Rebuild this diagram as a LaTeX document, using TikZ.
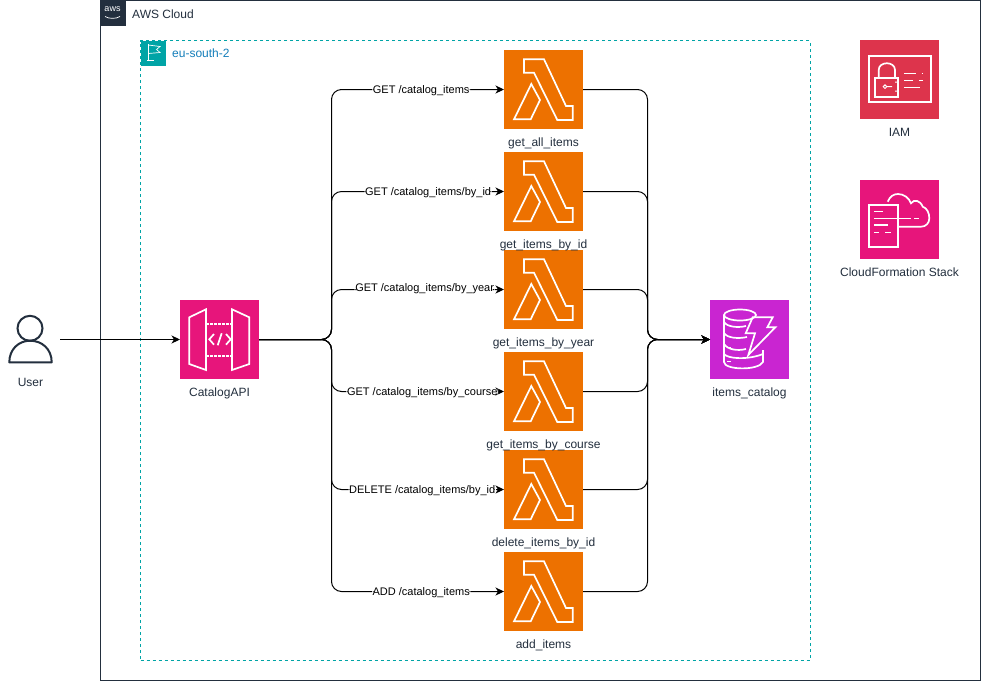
\documentclass[tikz,border=0pt]{standalone}
\usepackage{fontspec}
\setmainfont{Liberation Sans}
\usetikzlibrary{arrows.meta, positioning}
\definecolor{awsink}{HTML}{232F3E}
\definecolor{regionteal}{HTML}{00A4A6}
\definecolor{regionblue}{HTML}{147EBA}
\definecolor{lambdaorange}{HTML}{ED7100}
\definecolor{apipink}{HTML}{E7157B}
\definecolor{dynamopurple}{HTML}{C925D1}
\definecolor{iamred}{HTML}{DD344C}

\begin{document}
\begin{tikzpicture}[
	x=1pt, y=-1pt,
	font=\fontsize{12}{14}\selectfont,
	icon/.style={
		rectangle,
		minimum width=79pt,
		minimum height=79pt,
		inner sep=0pt,
		outer sep=0pt
	},
	lambdabox/.style={icon, fill=lambdaorange},
	caption/.style={text=awsink, inner sep=0pt, below=9pt of #1},
	conn/.style={-{Stealth[length=8.5pt, width=8pt, inset=2.5pt]}, line width=1pt, rounded corners=10pt},
	edgelabel/.style={fill=white, inner sep=0.6pt, text height=8pt, text depth=2pt, yshift=-0.7pt, font=\fontsize{11}{12}\selectfont},
	glyph/.style={draw=white, line width=1.7pt, line join=miter},
	lambdaglyph/.pic={
		\draw[glyph] (20,9.3) -- (40,9.3) -- (62,56) -- (68.7,56) -- (68.7,70) -- (53.3,70) -- (30,22.7) -- (20,22.7) -- cycle;
		\draw[glyph] (27.3,34) -- (36,50) -- (26.7,69.3) -- (10,69.3) -- cycle;
	}
	]
	
	\useasboundingbox (0,0) rectangle (981,681);
	\fill[white] (0,0) rectangle (981,681);
	
	% Containers
	\node[draw=awsink, line width=1pt, minimum width=880pt, minimum height=680pt, inner sep=0pt, outer sep=0pt, anchor=north west] (cloud) at (100.5,0.5) {};
	\node[fill=awsink, minimum size=25pt, inner sep=0pt, outer sep=0pt, anchor=north west] (cloudbadge) at (cloud.north west) {};
	\node[white, font=\fontsize{9}{9}\selectfont, inner sep=0pt] (cloudlogo) at (112.5,9.5) {aws};
	\draw[white, line width=0.7pt] (105,16.5) .. controls (109,19) and (116,19) .. (120,16.5);
	\node[text=awsink, inner sep=0pt, anchor=west] (cloudtxt) at (132,14) {AWS Cloud};
	
	\node[draw=regionteal, dashed, line width=1pt, minimum width=669.5pt, minimum height=619.5pt, inner sep=0pt, outer sep=0pt, anchor=north west] (region) at (140.5,40.5) {};
	\node[fill=regionteal, minimum size=25pt, inner sep=0pt, outer sep=0pt, anchor=north west] (regionbadge) at (region.north west) {};
	\draw[white, line width=0.9pt] (148.3,44) -- (148.3,60.7) (147,60.7) -- (153.5,60.7);
	\draw[white, line width=0.7pt] (148.3,45) -- (160,46.5) -- (156.5,49.5) -- (160,52.5) -- (148.3,53.5);
	\node[text=regionblue, inner sep=0pt, anchor=west] (regiontxt) at (172,53) {eu-south-2};
	
	% User
	\node[minimum width=60pt, minimum height=60pt, inner sep=0pt, outer sep=0pt] (user) at (30,339.5) {};
	\draw[awsink, line width=2pt] (30,328.3) circle[radius=12.5];
	\draw[awsink, line width=2pt, line join=round] (9.3,362.3) .. controls (9.3,349) and (19,340.7) .. (30,340.7) .. controls (42,340.7) and (51.7,349) .. (51.7,362.3) -- cycle;
	\node[caption=user, yshift=0.5pt, xshift=0.5pt] (usertxt) {User};
	
	% API
	\node[icon, fill=apipink] (api) at (219.5,339.5) {};
	\begin{scope}[shift={(api.north west)}]
		\draw[glyph] (9.3,17.3) -- (26,9.3) -- (26,70) -- (9.3,64) -- cycle;
		\draw[glyph] (52,9.3) -- (69.3,17.3) -- (69.3,64) -- (52,70) -- cycle;
		\draw[glyph, dash pattern=on 2.5pt off 1.5pt] (26,24) -- (52,24) (26,55.7) -- (52,55.7);
		\draw[glyph] (34,34) -- (29.3,39.3) -- (34,44.7) (46,34) -- (50.7,39.3) -- (46,44.7) (41.7,33.3) -- (37.7,45.3);
	\end{scope}
	\node[caption=api] (apitxt) {CatalogAPI};
	
	% Lambdas
	\node[lambdabox] (getall) at (543.5,89.5) {};
	\node[lambdabox, below=23pt of getall] (getbyid) {};
	\node[lambdabox, below=19pt of getbyid] (getbyyear) {};
	\node[lambdabox, below=23pt of getbyyear] (getbycourse) {};
	\node[lambdabox, below=19pt of getbycourse] (deletebyid) {};
	\node[lambdabox, below=23pt of deletebyid] (additems) {};
	
	\pic at (getall.north west) {lambdaglyph};
	\pic at (getbyid.north west) {lambdaglyph};
	\pic at (getbyyear.north west) {lambdaglyph};
	\pic at (getbycourse.north west) {lambdaglyph};
	\pic at (deletebyid.north west) {lambdaglyph};
	\pic at (additems.north west) {lambdaglyph};
	
	\node[caption=getall] (getalltxt) {get\_all\_items};
	\node[caption=getbyid] (getbyidtxt) {get\_items\_by\_id};
	\node[caption=getbyyear] (getbyyeartxt) {get\_items\_by\_year};
	\node[caption=getbycourse] (getbycoursetxt) {get\_items\_by\_course};
	\node[caption=deletebyid] (deletebyidtxt) {delete\_items\_by\_id};
	\node[caption=additems] (additemstxt) {add\_items};
	
	% DynamoDB
	\node[icon, fill=dynamopurple] (dynamo) at (749.5,339.5) {};
	\begin{scope}[shift={(dynamo.north west)}]
		\draw[glyph] (30,15) ellipse[x radius=16, y radius=5.5];
		\draw[glyph] (14,15) -- (14,62) .. controls (14,70) and (48,71) .. (53,62) -- (53,50);
		\draw[glyph] (14,22) .. controls (17,27) and (28,28) .. (36,26);
		\draw[glyph] (14,33) .. controls (17,38) and (28,39) .. (37,37);
		\draw[glyph] (14,44) .. controls (18,50) and (28,51) .. (36,49);
		\draw[glyph] (14,54) .. controls (18,59) and (38,60) .. (53,54);
		\draw[glyph] (42.7,17.3) -- (62.7,17.3) -- (57.3,27.3) -- (65.3,27.3) -- (38.3,55) -- (45,33.3) -- (35.7,33.3) -- cycle;
		\draw[white, line width=1pt] (17,25) -- (21,25) (17,36) -- (21,36) (17,47) -- (21,47) (17,61) -- (21,61);
	\end{scope}
	\node[caption=dynamo] (dynamotxt) {items\_catalog};
	
	% IAM
	\node[icon, fill=iamred] (iam) at (899.5,79.5) {};
	\begin{scope}[shift={(iam.north west)}]
		\draw[glyph] (8.7,16) rectangle (70.7,61.7);
		\draw[glyph] (15.3,38.3) rectangle (38.3,56.7);
		\draw[glyph] (18.7,38.3) -- (18.7,30) .. controls (18.7,21) and (35,21) .. (35,30) -- (35,38.3);
		\draw[white, line width=1pt] (25,46.7) circle[radius=1.8] (26.8,46.7) -- (32,46.7) (35,42) -- (38,42) (35,51) -- (38,51);
		\draw[white, line width=1.3pt] (44,33.3) -- (56,33.3) (61.7,33.3) -- (63.3,33.3) (44,40.7) -- (53,40.7) (59,40.7) -- (63.3,40.7) (44,47.3) -- (60,47.3);
	\end{scope}
	\node[caption=iam] (iamtxt) {IAM};
	
	% CloudFormation
	\node[icon, fill=apipink] (stack) at (899.5,219.5) {};
	\begin{scope}[shift={(stack.north west)}]
		\draw[glyph] (8.7,25) rectangle (37.7,66.7);
		\draw[white, line width=1.3pt] (14.3,31.7) -- (23.3,31.7) (14.3,38.3) -- (51,38.3) (54.3,38.3) -- (58.7,38.3) (14.3,45) -- (27.7,45) (14.3,52.3) -- (19.3,52.3) (25.3,52.3) -- (31,52.3);
		\draw[white, line width=1.7pt] (27.7,21.7) .. controls (30,16) and (34,14) .. (38,14) .. controls (44,14) and (49,18) .. (51,23.3) .. controls (54,19) and (60,20) .. (62.7,26.7) .. controls (67,28) and (69.3,33) .. (69.3,38.3) .. controls (69.3,43) and (66,46.7) .. (61,46.7) -- (37.7,46.7);
	\end{scope}
	\node[caption=stack] (stacktxt) {CloudFormation Stack};
	
	% Bus lines
	\coordinate (apibus) at (331.5,339.5);
	\coordinate (dynamobus) at (647.5,339.5);
	
	% Arrows
	\draw[conn] (user.east) -- (api.west);
	
	\draw[conn] (api.east) -- (apibus) -- (apibus |- getall.west) -- node[edgelabel, pos=0.52] {GET /catalog\_items} (getall.west);
	\draw[conn] (api.east) -- (apibus) -- (apibus |- getbyid.west) -- node[edgelabel, pos=0.56] {GET /catalog\_items/by\_id} (getbyid.west);
	\draw[conn] (api.east) -- (apibus) -- (apibus |- getbyyear.west) -- node[edgelabel, pos=0.54, yshift=2pt] {GET /catalog\_items/by\_year} (getbyyear.west);
	\draw[conn] (api.east) -- (apibus) -- (apibus |- getbycourse.west) -- node[edgelabel, pos=0.526] {GET /catalog\_items/by\_course} (getbycourse.west);
	\draw[conn] (api.east) -- (apibus) -- (apibus |- deletebyid.west) -- node[edgelabel, pos=0.526] {DELETE /catalog\_items/by\_id} (deletebyid.west);
	\draw[conn] (api.east) -- (apibus) -- (apibus |- additems.west) -- node[edgelabel, pos=0.52] {ADD /catalog\_items} (additems.west);
	
	\draw[conn] (getall.east) -- (dynamobus |- getall.east) -- (dynamobus) -- (dynamo.west);
	\draw[conn] (getbyid.east) -- (dynamobus |- getbyid.east) -- (dynamobus) -- (dynamo.west);
	\draw[conn] (getbyyear.east) -- (dynamobus |- getbyyear.east) -- (dynamobus) -- (dynamo.west);
	\draw[conn] (getbycourse.east) -- (dynamobus |- getbycourse.east) -- (dynamobus) -- (dynamo.west);
	\draw[conn] (deletebyid.east) -- (dynamobus |- deletebyid.east) -- (dynamobus) -- (dynamo.west);
	\draw[conn] (additems.east) -- (dynamobus |- additems.east) -- (dynamobus) -- (dynamo.west);
	
\end{tikzpicture}
\end{document}
